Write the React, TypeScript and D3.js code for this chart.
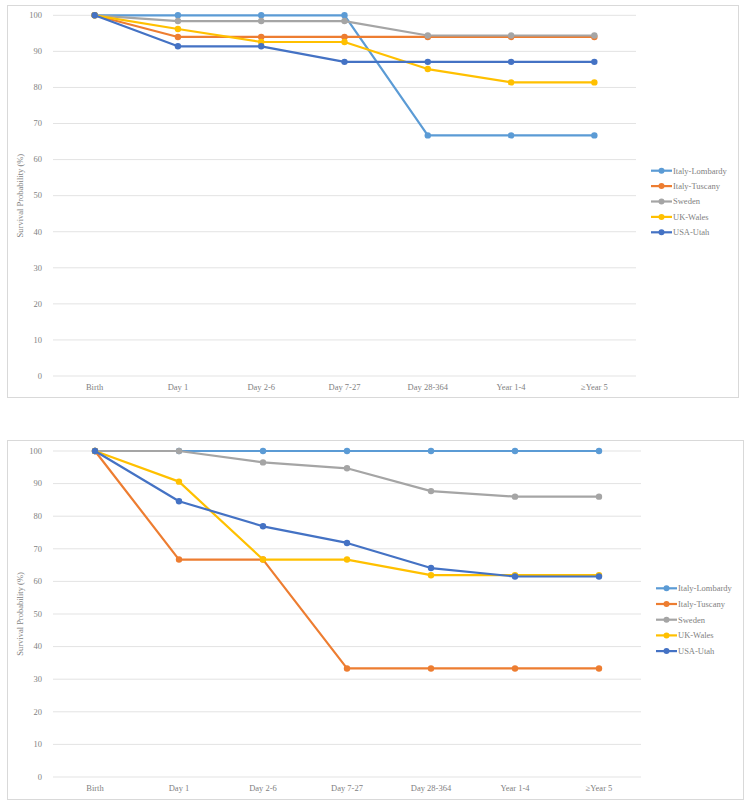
import React from "react";
import * as d3 from "d3";

const categories = ["Birth", "Day 1", "Day 2-6", "Day 7-27", "Day 28-364", "Year 1-4", "\u2265Year 5"];
const seriesNames = ["Italy-Lombardy", "Italy-Tuscany", "Sweden", "UK-Wales", "USA-Utah"];
const seriesColors = ["#5B9BD5", "#ED7D31", "#A5A5A5", "#FFC000", "#4472C4"];
const yTicks = [0, 10, 20, 30, 40, 50, 60, 70, 80, 90, 100];

// Top chart
const topLombardy = [100, 100, 100, 100, 66.7, 66.7, 66.7];
const topTuscany = [100, 94.0, 94.0, 94.0, 94.0, 94.0, 94.0];
const topSweden = [100, 98.4, 98.4, 98.4, 94.4, 94.4, 94.4];
const topWales = [100, 96.2, 92.6, 92.6, 85.1, 81.4, 81.4];
const topUtah = [100, 91.4, 91.4, 87.1, 87.1, 87.1, 87.1];

// Bottom chart
const botLombardy = [100, 100, 100, 100, 100, 100, 100];
const botTuscany = [100, 66.7, 66.7, 33.3, 33.3, 33.3, 33.3];
const botSweden = [100, 100, 96.5, 94.7, 87.7, 86.0, 86.0];
const botWales = [100, 90.6, 66.7, 66.7, 61.9, 61.9, 61.9];
const botUtah = [100, 84.6, 76.9, 71.8, 64.1, 61.5, 61.5];

const FONT = "'Liberation Serif', 'Times New Roman', serif";

type Layout = {
  box: [number, number, number, number];
  plotX: [number, number];
  plotY: [number, number]; // y for 0, y for 100
  legendX: number;
  legendY: number;
  legendStep: number;
};

function Chart({ series, layout }: { series: number[][]; layout: Layout }) {
  const x = d3.scalePoint<string>().domain(categories).range(layout.plotX).padding(0.5);
  const y = d3.scaleLinear().domain([0, 100]).range(layout.plotY);
  const line = d3
    .line<number>()
    .x((_, i) => x(categories[i]) as number)
    .y((d) => y(d));
  const [bx, by, bw, bh] = layout.box;
  const midY = (layout.plotY[0] + layout.plotY[1]) / 2;
  return (
    <g>
      <rect x={bx + 0.5} y={by + 0.5} width={bw} height={bh} fill="#fff" stroke="#D9D9D9" strokeWidth={1} />
      {yTicks.map((t) => (
        <g key={t}>
          <line x1={layout.plotX[0]} x2={layout.plotX[1]} y1={y(t)} y2={y(t)} stroke="#E3E3E3" strokeWidth={1} />
          <text x={layout.plotX[0] - 11} y={y(t)} dy="0.33em" textAnchor="end" fontSize={8.5} fill="#7F7F7F" fontFamily={FONT}>
            {t}
          </text>
        </g>
      ))}
      {categories.map((c) => (
        <text key={c} x={x(c)} y={layout.plotY[0] + 14} textAnchor="middle" fontSize={8.5} fill="#7F7F7F" fontFamily={FONT}>
          {c}
        </text>
      ))}
      <text
        transform={`translate(${bx + 16},${midY}) rotate(-90)`}
        textAnchor="middle"
        fontSize={8.5}
        fill="#7F7F7F"
        fontFamily={FONT}
      >
        Survival Probability (%)
      </text>
      {series.map((s, si) => (
        <g key={si}>
          <path d={line(s) as string} fill="none" stroke={seriesColors[si]} strokeWidth={2.2} strokeLinejoin="round" />
          {s.map((v, i) => (
            <circle key={i} cx={x(categories[i])} cy={y(v)} r={3.2} fill={seriesColors[si]} />
          ))}
        </g>
      ))}
      {seriesNames.map((n, si) => {
        const ly = layout.legendY + si * layout.legendStep;
        return (
          <g key={n}>
            <line x1={layout.legendX} x2={layout.legendX + 21} y1={ly} y2={ly} stroke={seriesColors[si]} strokeWidth={2.2} />
            <circle cx={layout.legendX + 10.5} cy={ly} r={3} fill={seriesColors[si]} />
            <text x={layout.legendX + 22} y={ly} dy="0.33em" fontSize={8.5} fill="#7F7F7F" fontFamily={FONT}>
              {n}
            </text>
          </g>
        );
      })}
    </g>
  );
}

export default function App() {
  const topLayout: Layout = {
    box: [7, 5, 731, 392],
    plotX: [53, 636],
    plotY: [376, 15.3],
    legendX: 651,
    legendY: 170.7,
    legendStep: 15.4,
  };
  const botLayout: Layout = {
    box: [7, 440, 736, 359],
    plotX: [53, 641],
    plotY: [777, 451],
    legendX: 656,
    legendY: 588.3,
    legendStep: 15.7,
  };
  return (
    <svg
      width={749}
      height={804}
      style={{ position: "absolute", left: 0, top: 0, background: "#fff" }}
    >
      <rect width={749} height={804} fill="#fff" />
      <Chart series={[topLombardy, topTuscany, topSweden, topWales, topUtah]} layout={topLayout} />
      <Chart series={[botLombardy, botTuscany, botSweden, botWales, botUtah]} layout={botLayout} />
    </svg>
  );
}
